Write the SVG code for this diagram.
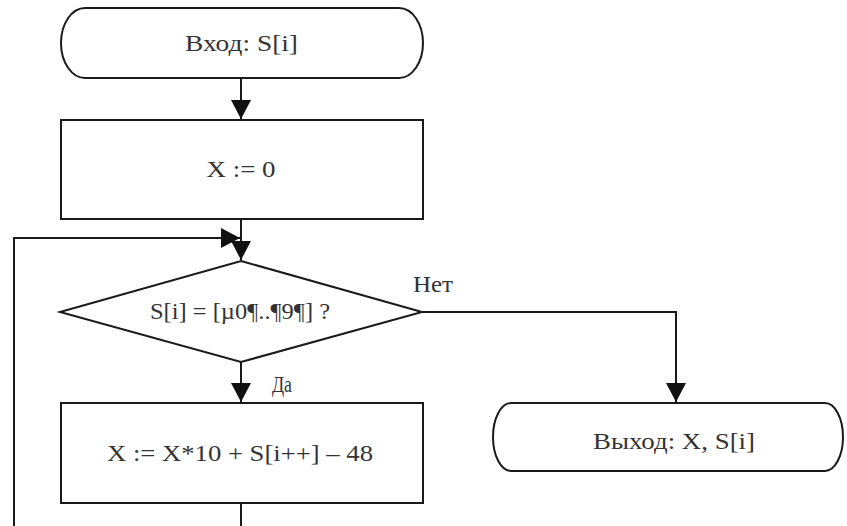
<svg xmlns="http://www.w3.org/2000/svg" width="847" height="526" viewBox="0 0 847 526">
<style>
.shape{fill:#fff;stroke:#1a1a1a;stroke-width:2}
.conn{fill:none;stroke:#1a1a1a;stroke-width:2}
.t{font-family:"Liberation Serif","Times New Roman",serif;font-size:24px;fill:#333;text-anchor:middle}
.lbl{font-family:"Liberation Serif","Times New Roman",serif;font-size:23px;fill:#333}
</style>
<defs>
<marker id="arr" markerUnits="userSpaceOnUse" markerWidth="20" markerHeight="20" viewBox="0 0 20 20" refX="19" refY="10" orient="auto">
<path d="M0,0 L19,10 L0,20 Z" fill="#111"/>
</marker>
</defs>
<rect width="847" height="526" fill="#fff"/>
<g id="connectors">
<path class="conn" d="M241,78 V119" marker-end="url(#arr)"/>
<path class="conn" d="M241,219 V260" marker-end="url(#arr)"/>
<path class="conn" d="M241,362 V402" marker-end="url(#arr)"/>
<path class="conn" d="M422,312 H676 V402" marker-end="url(#arr)"/>
<path class="conn" d="M241,503 V540 H14 V238 H240" marker-end="url(#arr)"/>
<text class="lbl" x="413" y="292" textLength="40" lengthAdjust="spacingAndGlyphs">Нет</text>
<text class="lbl" x="272" y="392" textLength="20" lengthAdjust="spacingAndGlyphs">Да</text>
</g>
<g id="start">
<rect class="shape" x="61" y="8" width="362" height="70" rx="24" ry="35"/>
<text class="t" x="241.5" y="51" textLength="113" lengthAdjust="spacingAndGlyphs">Вход: S[i]</text>
</g>
<g id="init">
<rect class="shape" x="61" y="120" width="362" height="99"/>
<text class="t" x="241" y="177" textLength="69" lengthAdjust="spacingAndGlyphs">X := 0</text>
</g>
<g id="check">
<polygon class="shape" points="241,261 422,312 241,362 60,312"/>
<text class="t" x="240" y="319" textLength="180" lengthAdjust="spacingAndGlyphs">S[i] = [µ0¶..¶9¶] ?</text>
</g>
<g id="accumulate">
<rect class="shape" x="61" y="403" width="362" height="100"/>
<text class="t" x="240" y="461" textLength="266" lengthAdjust="spacingAndGlyphs">X := X*10 + S[i++] – 48</text>
</g>
<g id="exit">
<rect class="shape" x="493" y="403" width="350" height="68" rx="18" ry="34"/>
<text class="t" x="674" y="449" textLength="162" lengthAdjust="spacingAndGlyphs">Выход: X, S[i]</text>
</g>
</svg>
